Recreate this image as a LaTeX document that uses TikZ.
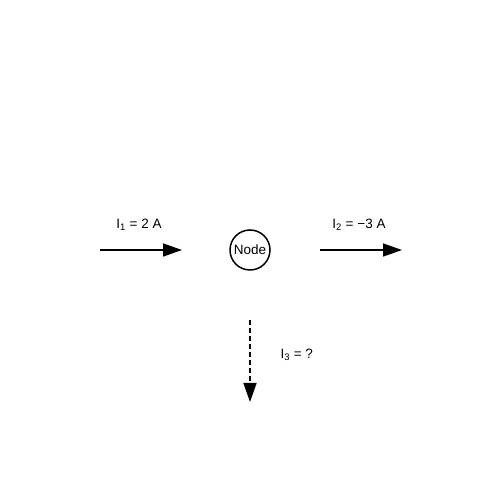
\documentclass[tikz,border=0pt]{standalone}
\usepackage{fontspec}
\setmainfont{Liberation Sans}
\usetikzlibrary{arrows.meta}
\begin{document}
\begin{tikzpicture}[x=1pt,y=1pt,
  cur/.style={line width=1.5pt,-{Triangle[length=19pt,width=13pt]}},
  lbl/.style={font=\fontsize{13.5}{15}\selectfont},
  nodecirc/.style={circle,draw,line width=1.5pt,minimum size=40pt,inner sep=0pt,font=\fontsize{13.5}{15}\selectfont}]
\useasboundingbox (0,0) rectangle (500,500);
\node[nodecirc] (n) at (250,250) {Node};
\coordinate (a1) at (100,250);
\coordinate (b1) at (182,250);
\coordinate (a2) at (320,250);
\coordinate (b2) at (402,250);
\coordinate (a3) at (250,180);
\coordinate (b3) at (250,98);
\draw[cur] (a1) -- (b1);
\draw[cur] (a2) -- (b2);
\draw[cur,dash pattern=on 5pt off 3pt] (a3) -- (b3);
\node[lbl] (l1) at (139,275) {I\textsubscript{1} = 2 A};
\node[lbl] (l2) at (359,275) {I\textsubscript{2} = −3 A};
\node[lbl,anchor=west] (l3) at (277,145) {I\textsubscript{3} = ?};
\end{tikzpicture}
\end{document}
